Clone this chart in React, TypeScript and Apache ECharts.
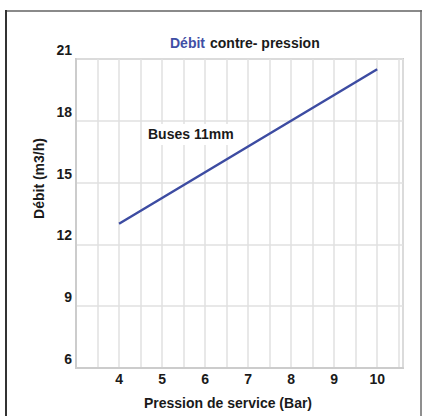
import React, { useEffect, useRef } from "react";
import * as echarts from "echarts";

const pressures = [4, 5, 6, 7, 8, 9, 10];
const flows = [13, 14.25, 15.5, 16.75, 18, 19.25, 20.5];
const xTickLabels = ["4", "5", "6", "7", "8", "9", "10"];
const yTickLabels = ["6", "9", "12", "15", "18", "21"];
const seriesName = "Buses 11mm";
const titleBlue = "Débit";
const titleRest = "contre- pression";
const xName = "Pression de service (Bar)";
const yName = "Débit (m3/h)";

const FONT = "'Liberation Sans', Arial, Helvetica, sans-serif";

export default function App() {
  const ref = useRef<HTMLDivElement>(null);
  useEffect(() => {
    if (!ref.current) return;
    const chart = echarts.init(ref.current, null, { renderer: "svg" });
    const data = pressures.map((p, i) => [p, flows[i]]);
    chart.setOption({
      animation: false,
      backgroundColor: "#ffffff",
      textStyle: { fontFamily: FONT },
      title: {
        text: `{a|${titleBlue}} {b|${titleRest}}`,
        left: 165,
        top: 29,
        textStyle: {
          rich: {
            a: { color: "#3f4fa5", fontSize: 14, fontWeight: "bold", fontFamily: FONT, lineHeight: 18 },
            b: { color: "#1a1a1a", fontSize: 14, fontWeight: "bold", fontFamily: FONT, lineHeight: 18 },
          },
        },
      },
      grid: {
        left: 76,
        top: 59,
        right: 20,
        bottom: 48,
        show: true,
        borderColor: "#cccccc",
        borderWidth: 2,
      },
      xAxis: {
        type: "value",
        min: 3,
        max: 10.6,
        interval: 0.5,
        name: xName,
        nameLocation: "middle",
        nameGap: 28,
        nameTextStyle: {
          color: "#1a1a1a",
          fontSize: 14,
          fontWeight: "bold",
          fontFamily: FONT,
          padding: [0, 23, 0, 0],
        },
        axisLine: { show: true, lineStyle: { color: "#cccccc", width: 2 } },
        axisTick: { show: false },
        splitLine: { show: true, lineStyle: { color: "#e0e0e0", width: 1.5 } },
        axisLabel: {
          margin: 4,
          color: "#1a1a1a",
          fontSize: 14,
          fontWeight: "bold",
          fontFamily: FONT,
          showMinLabel: true,
          showMaxLabel: true,
          formatter: (v: number) => {
            const s = String(v);
            return xTickLabels.includes(s) ? s : "";
          },
        },
      },
      yAxis: {
        type: "value",
        min: 6,
        max: 21,
        interval: 3,
        name: yName,
        nameLocation: "middle",
        nameGap: 28,
        nameTextStyle: {
          color: "#1a1a1a",
          fontSize: 14,
          fontWeight: "bold",
          fontFamily: FONT,
          padding: [0, 0, 0, 70],
        },
        axisLine: { show: true, lineStyle: { color: "#cccccc", width: 2 } },
        axisTick: { show: false },
        splitLine: { show: true, lineStyle: { color: "#e0e0e0", width: 1.5 } },
        axisLabel: {
          margin: 4,
          color: "#1a1a1a",
          fontSize: 14,
          fontWeight: "bold",
          fontFamily: FONT,
          verticalAlign: "bottom",
          padding: [0, 0, 2, 0],
          formatter: (v: number) => {
            const s = String(v);
            return yTickLabels.includes(s) ? s : "";
          },
        },
      },
      series: [
        {
          name: seriesName,
          type: "line",
          data,
          symbol: "none",
          lineStyle: { color: "#3d4ca2", width: 2.5 },
        },
      ],
      graphic: [
        { type: "line", shape: { x1: 5, y1: 11, x2: 422, y2: 11 }, style: { stroke: "#8a8a8a", lineWidth: 2 } },
        { type: "line", shape: { x1: 6, y1: 10, x2: 6, y2: 416 }, style: { stroke: "#333333", lineWidth: 2 } },
        { type: "line", shape: { x1: 421, y1: 10, x2: 421, y2: 416 }, style: { stroke: "#6a6a6a", lineWidth: 1.5 } },
        {
          type: "text",
          left: 146,
          top: 124,
          z: 100,
          style: {
            text: seriesName,
            fill: "#1a1a1a",
            font: `bold 14px ${FONT}`,
            backgroundColor: "#ffffff",
            padding: [3, 2, 4, 2],
          },
        },
      ],
    });
    return () => chart.dispose();
  }, []);
  return (
    <div
      ref={ref}
      style={{ position: "absolute", left: 0, top: 0, width: 423, height: 416 }}
    />
  );
}
